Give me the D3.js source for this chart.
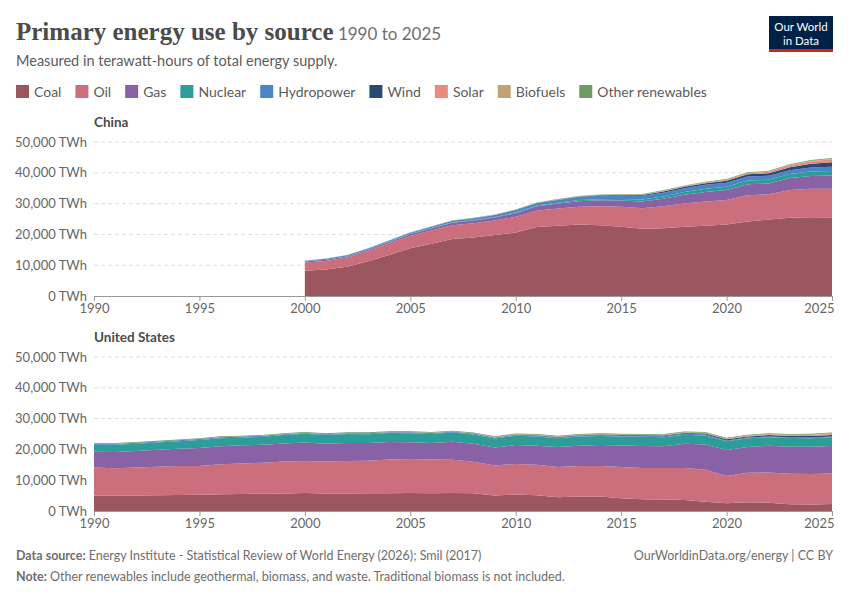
<!DOCTYPE html>
<html><head><meta charset="utf-8">
<script src="https://cdn.jsdelivr.net/npm/d3@7"></script>
<style>body{margin:0;background:#fff;font-family:Lato,"Noto Sans",sans-serif}</style>
</head><body><svg id="chart" width="850" height="600"></svg>
<script>
var sources = ["Coal", "Oil", "Gas", "Nuclear", "Hydropower", "Wind", "Solar", "Biofuels", "Other renewables"];
var colors = ["#9c565d", "#cb6f7c", "#8962a5", "#2c9d98", "#4a85c7", "#2b4a73", "#e98c7b", "#c0a274", "#6c9b64"];

var chinaYears = d3.range(2000, 2026);
var chinaCoal = [8200,8600,9500,11300,13300,15500,17000,18500,19000,19800,20600,22400,22800,23200,23000,22500,21800,22000,22500,22800,23200,24200,24800,25400,25600,25500];
var chinaOil = [2700,2800,3000,3300,3800,4000,4300,4500,4600,4700,5100,5300,5600,5800,6100,6500,6700,7100,7500,7900,8000,8500,8200,9000,9200,9300];
var chinaGas = [300,330,350,400,450,520,620,760,880,980,1200,1450,1600,1800,1950,2000,2200,2500,2900,3100,3200,3600,3500,3900,4200,4300];
var chinaNuclear = [50,50,70,120,140,150,160,180,190,200,220,250,280,330,400,520,640,740,880,1000,1060,1180,1250,1300,1400,1500];
var chinaHydro = [220,280,290,280,350,400,430,480,580,620,720,700,870,920,1060,1110,1170,1190,1230,1300,1350,1300,1300,1230,1350,1400];
var chinaWind = [0,0,0,1,1,2,4,8,15,35,60,90,130,180,210,250,310,380,440,510,600,720,830,1000,1200,1400];
var chinaSolar = [0,0,0,0,0,0,0,0,0,0,1,2,5,10,25,40,70,120,180,220,260,330,430,590,830,1000];
var chinaBio = [20,20,25,25,30,35,40,45,50,55,60,65,70,75,80,85,90,95,100,105,110,120,125,135,145,150];
var chinaOther = [50,55,60,65,70,75,80,85,90,95,100,110,120,130,140,150,160,170,180,190,200,210,220,230,240,250];

var usYears = d3.range(1990, 2026);
var usCoal = [5000,5000,5050,5150,5200,5250,5450,5550,5600,5650,5850,5700,5700,5750,5800,5850,5800,5850,5750,5000,5350,5100,4450,4700,4700,4150,3850,3750,3600,3000,2500,2850,2700,2200,2100,2250];
var usOil = [9100,8900,9100,9200,9400,9400,9700,9900,10100,10400,10400,10400,10500,10600,10900,11000,10900,10800,10200,9800,9950,9900,9800,9900,9900,10100,10150,10250,10400,10400,8900,9600,9800,9900,9950,9950];
var usGas = [5150,5250,5350,5500,5600,5800,5850,5900,5800,5850,6000,5750,5900,5750,5700,5500,5400,5800,5900,5800,6100,6200,6500,6600,6800,7000,7100,7000,7800,8200,8400,8300,8700,8800,8800,8900];
var usNuclear = [2250,2330,2370,2350,2480,2590,2630,2460,2600,2750,2820,2850,2900,2850,2930,2920,2930,3000,2980,2960,3000,2950,2850,2950,2980,2970,2980,2970,2970,2950,2830,2830,2770,2770,2800,2830];
var usHydro = [300,300,260,290,270,310,340,340,310,300,270,210,260,270,260,270,290,250,250,270,260,320,270,270,260,250,270,300,290,280,290,250,250,240,240,240];
var usWind = [3,3,3,3,4,4,4,4,4,5,6,7,10,11,14,18,27,35,55,73,95,120,140,170,180,190,230,250,275,300,340,380,430,425,455,480];
var usSolar = [0,0,0,0,0,0,0,0,0,0,0,0,0,0,0,0,0,1,2,3,5,8,12,20,30,40,55,75,90,105,130,165,205,240,310,380];
var usBio = [20,22,25,27,30,30,28,30,30,32,35,38,42,50,60,70,85,100,120,125,135,135,130,135,140,145,150,150,150,145,130,145,150,160,170,180];
var usOther = [250,250,250,250,250,250,250,250,250,250,250,250,250,250,250,250,250,250,250,250,250,250,250,250,250,250,250,250,250,250,250,250,250,250,250,250];

var yTicks = [0, 10000, 20000, 30000, 40000, 50000];
var xTicks = [1990, 1995, 2000, 2005, 2010, 2015, 2020, 2025];

var svg = d3.select("#chart");
var fmt = d3.format(",");

// header
var title = svg.append("text").attr("x", 16).attr("y", 40)
    .attr("font-family", "'Liberation Serif', serif").attr("font-size", 25).attr("fill", "#4b4b4b");
title.append("tspan").attr("font-weight", "bold").text("Primary energy use by source");
title.append("tspan").attr("font-family", "Lato, sans-serif").attr("font-size", 17).attr("fill", "#6e6e6e").text(" 1990 to 2025");
svg.append("text").attr("x", 16).attr("y", 66).attr("font-size", 14.5).attr("fill", "#5b5b5b")
    .text("Measured in terawatt-hours of total energy supply.");

svg.append("rect").attr("x", 769).attr("y", 16).attr("width", 64).attr("height", 36).attr("fill", "#002147");
svg.append("rect").attr("x", 769).attr("y", 49).attr("width", 64).attr("height", 3).attr("fill", "#ce261e");
svg.append("text").attr("x", 801).attr("y", 31).attr("text-anchor", "middle").attr("font-size", 11.5).attr("fill", "#fff").text("Our World");
svg.append("text").attr("x", 801).attr("y", 45).attr("text-anchor", "middle").attr("font-size", 11.5).attr("fill", "#fff").text("in Data");

// legend
var lx = 16;
sources.forEach(function (s, i) {
    var g = svg.append("g").attr("transform", "translate(" + lx + ",85)");
    g.append("rect").attr("width", 13).attr("height", 13).attr("fill", colors[i]);
    var t = g.append("text").attr("x", 18).attr("y", 11.5).attr("font-size", 14).attr("fill", "#5b5b5b").text(s);
    lx += 18 + t.node().getComputedTextLength() + 14;
});

var x = d3.scaleLinear().domain([1990, 2025]).range([94, 832]);

function panel(name, top, years, series) {
    var y = d3.scaleLinear().domain([0, 50000]).range([top + 154, top]);
    svg.append("text").attr("x", 94).attr("y", top - 15).attr("font-size", 13.5)
        .attr("font-weight", "bold").attr("fill", "#4b4b4b").text(name);
    var g = svg.append("g");
    yTicks.forEach(function (t) {
        if (t > 0) g.append("line").attr("x1", 94).attr("x2", 832).attr("y1", y(t)).attr("y2", y(t))
            .attr("stroke", "#dddddd").attr("stroke-dasharray", "4,3");
        g.append("text").attr("x", 87).attr("y", y(t) + 4.5).attr("text-anchor", "end")
            .attr("font-size", 13).attr("fill", "#666").text(fmt(t) + " TWh");
    });
    var rows = years.map(function (yr, i) {
        var r = { year: yr };
        sources.forEach(function (s, k) { r[s] = series[k][i]; });
        return r;
    });
    var stack = d3.stack().keys(sources)(rows);
    var area = d3.area().x(function (d) { return x(d.data.year); })
        .y0(function (d) { return y(d[0]); }).y1(function (d) { return y(d[1]); });
    g.selectAll("path.a").data(stack).join("path").attr("class", "a")
        .attr("d", area).attr("fill", function (d, i) { return colors[i]; });
    var ax = g.append("g").attr("transform", "translate(0," + y(0) + ")")
        .call(d3.axisBottom(x).tickValues(xTicks).tickFormat(d3.format("d")).tickSize(5).tickSizeOuter(0));
    ax.select(".domain").attr("stroke", "#999");
    ax.selectAll("line").attr("stroke", "#999");
    ax.selectAll("text").attr("font-size", 13).attr("fill", "#666").attr("font-family", "Lato, sans-serif");
    ax.selectAll(".tick text").filter(function (d) { return d === 2025; }).attr("text-anchor", "end").attr("dx", "2");
}

panel("China", 142, chinaYears, [chinaCoal, chinaOil, chinaGas, chinaNuclear, chinaHydro, chinaWind, chinaSolar, chinaBio, chinaOther]);
panel("United States", 357, usYears, [usCoal, usOil, usGas, usNuclear, usHydro, usWind, usSolar, usBio, usOther]);

// footer
var f1 = svg.append("text").attr("x", 16).attr("y", 560).attr("font-size", 12.5).attr("fill", "#6e6e6e");
f1.append("tspan").attr("font-weight", "bold").text("Data source: ");
f1.append("tspan").text("Energy Institute - Statistical Review of World Energy (2026); Smil (2017)");
svg.append("text").attr("x", 833).attr("y", 560).attr("text-anchor", "end").attr("font-size", 12.5).attr("fill", "#6e6e6e")
    .text("OurWorldinData.org/energy | CC BY");
var f2 = svg.append("text").attr("x", 16).attr("y", 581).attr("font-size", 12.5).attr("fill", "#6e6e6e");
f2.append("tspan").attr("font-weight", "bold").text("Note: ");
f2.append("tspan").text("Other renewables include geothermal, biomass, and waste. Traditional biomass is not included.");
</script></body></html>
